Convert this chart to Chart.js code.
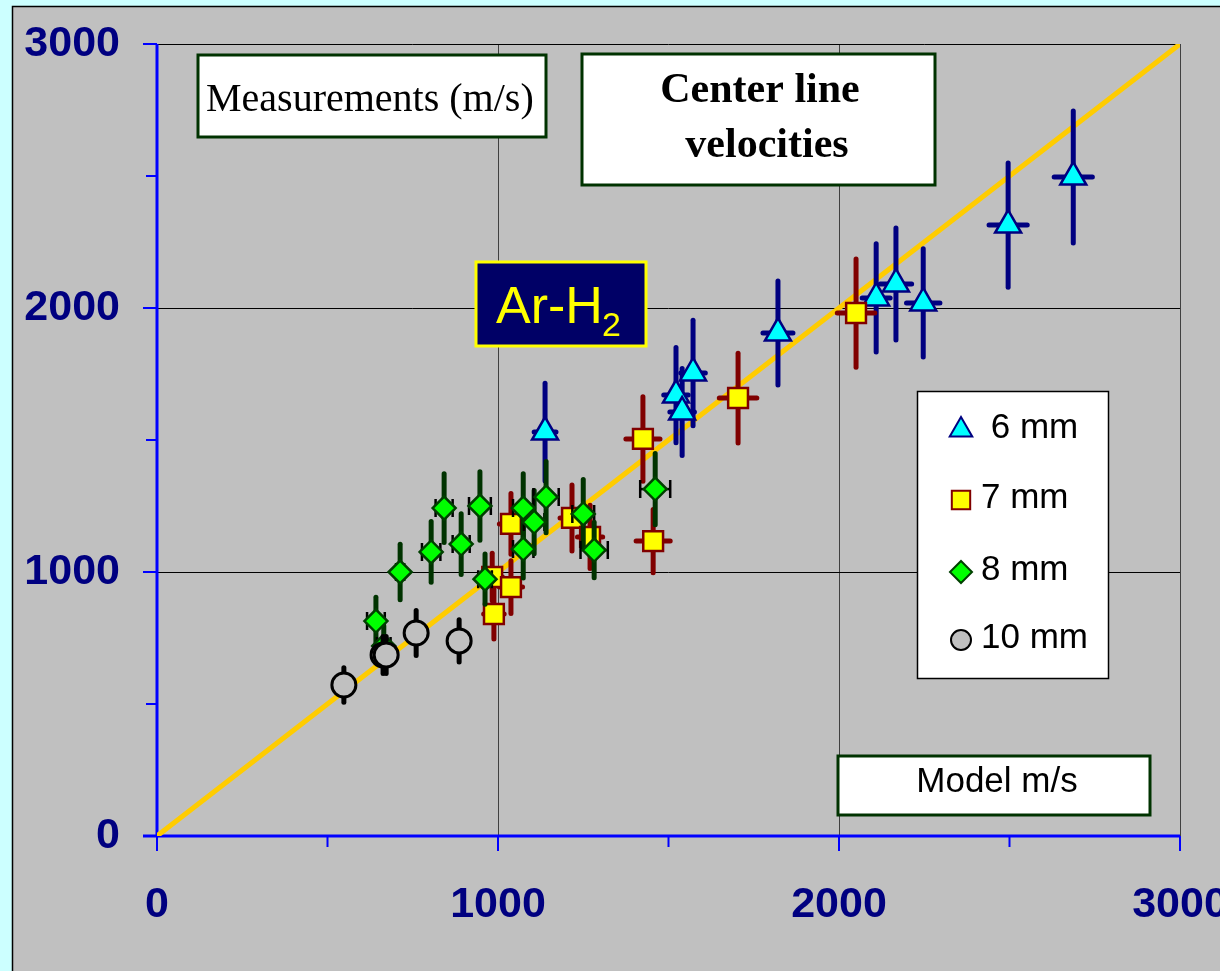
<!DOCTYPE html>
<html>
<head>
<meta charset="utf-8">
<title>Center line velocities</title>
<script src="https://cdn.jsdelivr.net/npm/chart.js@4.4.1/dist/chart.umd.min.js"></script>
<style>
  html, body { margin:0; padding:0; background:#ccffff; overflow:hidden; }
  canvas { display:block; }
</style>
</head>
<body>
<canvas id="velChart" width="1220" height="971"></canvas>
<script>
// model velocity (x) vs measured velocity (y), m/s, with error half-widths
const minorTicks = [500, 1500, 2500];
const majorTicks = [0, 1000, 2000, 3000];

// 6 mm
const d6x   = [1138, 1522, 1540, 1572, 1821, 2109, 2167, 2247, 2496, 2687];
const d6y   = [1530, 1670, 1606, 1754, 1905, 2038, 2091, 2019, 2314, 2496];
const d6dy  = [185, 180, 165, 200, 197, 205, 212, 205, 235, 250];
const d6dx  = [32, 36, 36, 36, 44, 41, 46, 49, 56, 56];

// 7 mm
const d7x   = [983, 988, 1038, 1038, 1217, 1270, 1425, 1455, 1704, 2050];
const d7y   = [981, 841, 1182, 943, 1205, 1133, 1504, 1117, 1659, 1981];
const d7dy  = [90, 95, 115, 100, 125, 120, 160, 120, 170, 205];
const d7dx  = [30, 30, 34, 34, 35, 37, 50, 50, 55, 55];

// 8 mm
const d8x   = [642, 665, 713, 804, 842, 892, 947, 962, 1074, 1074, 1106, 1141, 1250, 1282, 1461];
const d8y   = [814, 720, 1000, 1076, 1242, 1106, 1250, 973, 1242, 1087, 1189, 1284, 1220, 1083, 1314];
const d8dy  = [90, 75, 105, 115, 130, 115, 130, 95, 130, 110, 120, 135, 130, 105, 135];
const d8dx  = [26, 20, 12, 27, 25, 25, 32, 20, 30, 30, 30, 37, 32, 40, 44];

// 10 mm
const d10x  = [548, 663, 672, 760, 886];
const d10y  = [572, 686, 686, 769, 739];
const d10dy = [65, 70, 70, 85, 80];

const seriesNames = [' 6 mm', '7 mm', '8 mm', '10 mm'];

const pts = (xs, ys) => xs.map((x, i) => ({x, y: ys[i]}));

const SANS = '"Liberation Sans", Arial, sans-serif';
const SERIF = '"Liberation Serif", "Times New Roman", serif';

/* page frame: cyan surround, grey panel */
const frame = {
  id: 'frame',
  beforeDraw(chart){
    const ctx = chart.ctx;
    ctx.save();
    ctx.fillStyle = '#ccffff';
    ctx.fillRect(0, 0, chart.width, chart.height);
    ctx.fillStyle = '#c0c0c0';
    ctx.fillRect(12, 6, chart.width, chart.height);
    ctx.strokeStyle = '#000';
    ctx.lineWidth = 1.5;
    ctx.strokeRect(12.5, 6.5, chart.width, chart.height);
    ctx.restore();
  }
};

/* blue axes with outward ticks (long at 1000s, short at 500s) */
const axes = {
  id: 'axes',
  beforeDatasetsDraw(chart){
    const {ctx, scales:{x, y}} = chart;
    const x0 = x.getPixelForValue(0), y0 = y.getPixelForValue(0);
    ctx.save();
    ctx.strokeStyle = '#0000ff';
    ctx.lineWidth = 3;
    ctx.beginPath();
    ctx.moveTo(x0, y.getPixelForValue(3000));
    ctx.lineTo(x0, y0);
    ctx.moveTo(x0 - 14, y0);
    ctx.lineTo(x.getPixelForValue(3000), y0);
    ctx.stroke();
    ctx.lineWidth = 2;
    ctx.beginPath();
    majorTicks.forEach(v => {
      const py = y.getPixelForValue(v), px = x.getPixelForValue(v);
      ctx.moveTo(x0 - 14, py); ctx.lineTo(x0, py);
      ctx.moveTo(px, y0); ctx.lineTo(px, y0 + 15);
    });
    minorTicks.forEach(v => {
      const py = y.getPixelForValue(v), px = x.getPixelForValue(v);
      ctx.moveTo(x0 - 11, py); ctx.lineTo(x0, py);
      ctx.moveTo(px, y0); ctx.lineTo(px, y0 + 11);
    });
    ctx.stroke();
    ctx.restore();
  }
};

/* error bars, drawn under each series' own markers */
const errorBars = {
  id: 'errorBars',
  beforeDatasetDraw(chart, args){
    const ds = chart.data.datasets[args.index];
    const e = ds.errors;
    if(!e) return;
    const {ctx, scales:{x, y}} = chart;
    ctx.save();
    ds.data.forEach((p, i) => {
      const px = x.getPixelForValue(p.x), py = y.getPixelForValue(p.y);
      if(e.dx){
        const xl = x.getPixelForValue(p.x - e.dx[i]), xr = x.getPixelForValue(p.x + e.dx[i]);
        ctx.strokeStyle = e.hColor; ctx.lineWidth = e.hWidth; ctx.lineCap = e.caps ? 'butt' : 'round';
        ctx.beginPath(); ctx.moveTo(xl, py); ctx.lineTo(xr, py); ctx.stroke();
        if(e.caps){
          ctx.lineWidth = 2.5;
          ctx.beginPath();
          ctx.moveTo(xl, py - 9); ctx.lineTo(xl, py + 9);
          ctx.moveTo(xr, py - 9); ctx.lineTo(xr, py + 9);
          ctx.stroke();
        }
      }
      ctx.strokeStyle = e.color; ctx.lineWidth = 5; ctx.lineCap = 'round';
      ctx.beginPath();
      ctx.moveTo(px, y.getPixelForValue(p.y - e.dy[i]));
      ctx.lineTo(px, y.getPixelForValue(p.y + e.dy[i]));
      ctx.stroke();
    });
    ctx.restore();
  }
};

function textBox(ctx, x, y, w, h, fill, stroke, lw){
  ctx.fillStyle = fill;
  ctx.fillRect(x, y, w, h);
  ctx.strokeStyle = stroke;
  ctx.lineWidth = lw;
  ctx.strokeRect(x, y, w, h);
}

/* labels, title boxes and the legend panel */
const notes = {
  id: 'notes',
  afterDraw(chart){
    const ctx = chart.ctx;
    ctx.save();
    ctx.textBaseline = 'alphabetic';

    textBox(ctx, 198, 55, 348, 82, '#fff', '#003300', 3);
    ctx.fillStyle = '#000';
    ctx.font = '40px ' + SERIF;
    ctx.textAlign = 'left';
    ctx.fillText('Measurements (m/s)', 206, 111);

    textBox(ctx, 582, 54, 353, 131, '#fff', '#003300', 3);
    ctx.fillStyle = '#000';
    ctx.font = 'bold 42px ' + SERIF;
    ctx.textAlign = 'center';
    ctx.fillText('Center line', 760, 102);
    ctx.fillText('velocities', 767, 157);

    textBox(ctx, 476, 262, 170, 84, '#000066', '#ffff00', 3);
    ctx.fillStyle = '#ffff00';
    ctx.textAlign = 'left';
    ctx.font = '52px ' + SANS;
    ctx.fillText('Ar-H', 496, 323);
    ctx.font = '34px ' + SANS;
    ctx.fillText('2', 602, 336);

    textBox(ctx, 838, 756, 312, 59, '#fff', '#003300', 3);
    ctx.fillStyle = '#000';
    ctx.textAlign = 'center';
    ctx.font = '35px ' + SANS;
    ctx.fillText('Model m/s', 997, 792);

    // legend
    textBox(ctx, 917.5, 391.5, 191, 287, '#fff', '#000', 1.5);
    const rows = [428, 498, 570, 638];
    const sizes = [13, 13, 11, 10];
    chart.data.datasets.slice(0, 4).forEach((ds, i) => {
      ctx.fillStyle = ds.pointBackgroundColor;
      ctx.strokeStyle = ds.pointBorderColor;
      ctx.lineWidth = 2;
      Chart.helpers.drawPoint(ctx, {pointStyle: ds.pointStyle, radius: sizes[i], rotation: 0, borderWidth: 2}, 961, rows[i] + 2);
      ctx.fillStyle = '#000';
      ctx.textAlign = 'left';
      ctx.textBaseline = 'middle';
      ctx.font = '35px ' + SANS;
      ctx.fillText(seriesNames[i], 981, rows[i]);
    });
    ctx.restore();
  }
};

const tickFont = {family: SANS, size: 43, weight: 'bold'};

// keep the plot box fixed: no label-driven padding
function fixBox(size){
  return s => {
    if(s.isHorizontal()) s.height = size; else s.width = size;
    s.paddingLeft = s.paddingRight = s.paddingTop = s.paddingBottom = 0;
  };
}

new Chart(document.getElementById('velChart'), {
  type: 'scatter',
  data: {
    datasets: [
      {
        label: '6 mm', data: pts(d6x, d6y), order: 4,
        pointStyle: 'triangle', pointRadius: 15, pointBorderWidth: 2.5,
        pointBackgroundColor: '#00ffff', pointBorderColor: '#000080',
        errors: {dy: d6dy, dx: d6dx, color: '#000080', hColor: '#000080', hWidth: 5}
      },
      {
        label: '7 mm', data: pts(d7x, d7y), order: 3,
        pointStyle: 'rect', pointRadius: 14, pointBorderWidth: 2.5,
        pointBackgroundColor: '#ffff00', pointBorderColor: '#800000',
        errors: {dy: d7dy, dx: d7dx, color: '#800000', hColor: '#800000', hWidth: 5}
      },
      {
        label: '8 mm', data: pts(d8x, d8y), order: 2,
        pointStyle: 'rectRot', pointRadius: 11.5, pointBorderWidth: 2.5,
        pointBackgroundColor: '#00ff00', pointBorderColor: '#004000',
        errors: {dy: d8dy, dx: d8dx, color: '#003300', hColor: '#000', hWidth: 2.5, caps: true}
      },
      {
        label: '10 mm', data: pts(d10x, d10y), order: 1,
        pointStyle: 'circle', pointRadius: 12, pointBorderWidth: 3,
        pointBackgroundColor: '#c0c0c0', pointBorderColor: '#000',
        errors: {dy: d10dy, color: '#000'}
      },
      {
        label: 'y = x', data: pts([0, 3000], [0, 3000]), order: 10,
        showLine: true, borderColor: '#ffcc00', borderWidth: 5, pointRadius: 0
      }
    ]
  },
  options: {
    responsive: false,
    animation: false,
    events: [],
    devicePixelRatio: 1,
    layout: {autoPadding: false, padding: {top: 44, right: 40, left: 0, bottom: 0}},
    plugins: {legend: {display: false}, tooltip: {enabled: false}},
    scales: {
      x: {
        type: 'linear', min: 0, max: 3000,
        afterFit: fixBox(135),
        border: {display: false},
        grid: {drawTicks: false, color: '#404040', lineWidth: 1},
        ticks: {stepSize: 1000, font: tickFont, color: '#000080', padding: 43, maxRotation: 0,
                callback: v => String(v)}
      },
      y: {
        type: 'linear', min: 0, max: 3000,
        afterFit: fixBox(157),
        border: {display: false},
        grid: {drawTicks: false, color: '#000', lineWidth: 1},
        ticks: {stepSize: 1000, font: tickFont, color: '#000080', padding: 37,
                callback: v => String(v)}
      }
    }
  },
  plugins: [frame, axes, errorBars, notes]
});
</script>
</body>
</html>
